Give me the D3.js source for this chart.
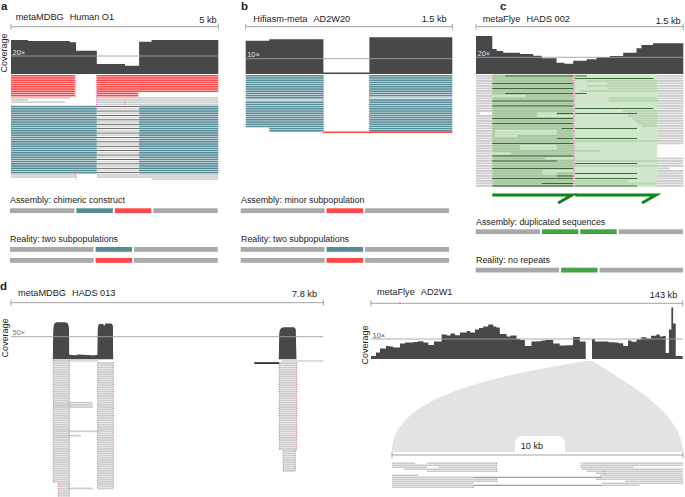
<!DOCTYPE html>
<html>
<head>
<meta charset="utf-8">
<script src="https://cdn.jsdelivr.net/npm/d3@7"></script>
<style>
  body { margin: 0; background: #fff; }
  text { font-family: "Liberation Sans", Arial, sans-serif; fill: #222; }
</style>
</head>
<body>
<svg id="fig" width="685" height="497"></svg>
<script>
// ---------- data ----------
// coverage profiles: [position (kb), depth (x)]
const aCov = [[0, 37.8], [0.41, 36.7], [1.42, 35.2], [1.57, 25.9], [2.07, 11.1], [2.75, 9.2], [3.09, 35.9], [3.39, 37.8], [5, 37.8]];
const bCov = [[0, 21.8], [0.171, 22.7], [0.564, 0.9], [0.898, 24], [1.5, 24]];
const cCov = [[0, 45.5], [0.118, 30], [0.15, 27.5], [0.197, 25.5], [0.318, 24], [0.414, 22], [0.475, 18.8],
  [0.583, 13.6], [0.64, 12.2], [0.703, 16], [0.8, 17.6], [0.872, 20], [0.968, 21.5], [1.065, 25.5],
  [1.161, 30.8], [1.197, 34.7], [1.281, 36.7], [1.5, 36.7]];
const dlCov = [[0, 0], [1.045, 0], [1.055, 60], [1.08, 78], [1.14, 82], [1.35, 82], [1.42, 79], [1.448, 68], [1.456, 10],
  [1.6, 9], [1.7, 10.5], [1.9, 9.5], [2.1, 9], [2.158, 10], [2.168, 68], [2.2, 78], [2.3, 78], [2.33, 74],
  [2.36, 79], [2.5, 79], [2.545, 74], [2.555, 0], [6.69, 0], [6.7, 58], [6.74, 68], [6.82, 71], [7.05, 71],
  [7.11, 67], [7.135, 0], [7.8, 0]];
const drCov = [[0, 1.5], [2.3, 3.2], [4.1, 5.3], [6.9, 6.5], [8.5, 6.2], [10.2, 5.7], [13.3, 7.8], [15.6, 8.2],
  [19.4, 8.5], [21.5, 8.9], [24, 8.3], [26.3, 7], [28.9, 8.7], [32.4, 12.3], [34.7, 11.7], [36.5, 12.8],
  [38.5, 11.9], [40.8, 13.3], [43.9, 14], [45.5, 13.2], [47.7, 14.8], [49.5, 15.5], [51.5, 16.2], [53.8, 17.3],
  [56.1, 16.2], [57.5, 15.8], [59.1, 12.5], [62.2, 11.3], [64, 11.8], [66.8, 10], [68.5, 9.5], [70.6, 6.5],
  [73.6, 8.7], [76, 8.9], [78.2, 9.2], [80, 9.5], [83.6, 7.8], [86.6, 6.7], [89.5, 6.9], [92.7, 11], [95.8, 8.7],
  [98.5, 0], [101.4, 10], [102.7, 8.7], [106, 8.8], [109, 8.4], [111.8, 8.2], [113.5, 7.9], [115.7, 6.5],
  [117.9, 9.2], [119.5, 8.6], [121.8, 9.7], [124, 10.9], [126.4, 10.3], [128.5, 11.6], [130.9, 12.3],
  [132.5, 11.2], [134, 11.5], [135.2, 3], [136.7, 14.8], [137.8, 25.8], [138.6, 17.7], [139.8, 1.5], [143, 1.5]];

// read pile-ups: first row, number of rows, start kb, end kb, colour key
const aReads = [
  {r0: 0, n: 10, s: 0, e: 1.54, c: "red"}, {r0: 0, n: 8, s: 2.07, e: 5, c: "red"},
  {r0: 8, n: 2, s: 2.07, e: 3.07, c: "red"},
  {r0: 10, n: 1, s: 0, e: 1.42, c: "gray"}, {r0: 11, n: 1, s: 0, e: 0.41, c: "gray"},
  {r0: 12, n: 1, s: 0, e: 1.3, c: "gray"}, {r0: 10, n: 4, s: 2.07, e: 5, c: "gray"},
  {r0: 14, n: 31, s: 0, e: 2.07, c: "teal"}, {r0: 14, n: 31, s: 3.09, e: 5, c: "teal"},
  {r0: 14, n: 31, s: 2.07, e: 3.09, c: "mix"},
  {r0: 45, n: 2, s: 0, e: 1.57, c: "gray"}, {r0: 45, n: 2, s: 2.07, e: 5, c: "gray"},
  {r0: 47, n: 1, s: 3.39, e: 5, c: "gray"}
];
const aClips = [[1.56, 0, 10], [2.06, 0, 14], [2.75, 12, 14], [1.57, 44, 47]];
const bReads = [
  {r0: 0, n: 11, s: 0, e: 0.564, c: "teal"}, {r0: 11, n: 1, s: 0, e: 0.564, c: "gray"},
  {r0: 12, n: 12, s: 0, e: 0.564, c: "teal"}, {r0: 24, n: 2, s: 0.171, e: 0.564, c: "teal"},
  {r0: 0, n: 10, s: 0.898, e: 1.5, c: "teal"}, {r0: 10, n: 1, s: 0.898, e: 1.5, c: "gray"},
  {r0: 11, n: 15, s: 0.898, e: 1.5, c: "teal"}
];
const bClips = [[0.564, 0, 26], [0.898, 0, 26]];
const bSpan = [0.564, 1.5];

// panel c: rows with gaps, green duplicated blocks, dark (matching) and light read rows
const cGaps = [[15, 0.03, 0.118], [28, 1.31, 1.5], [29, 1.31, 1.5], [30, 1.31, 1.5], [31, 1.31, 1.5], [32, 1.31, 1.5], [37, 1.4, 1.5]];
const cBlocks = [[0.118, 0.703, "left"], [0.717, 1.31, "right"]];
const cDark = [[0, 0.21, 0.703], [3, 0.118, 0.703], [5, 0.118, 0.703], [7, 0.21, 0.703], [10, 0.118, 0.703],
  [12, 0.118, 0.703], [15, 0.585, 0.703], [17, 0.118, 0.703], [19, 0.118, 0.703], [21, 0.62, 0.703],
  [25, 0.585, 0.703], [27, 0.118, 0.703], [32, 0.118, 0.703], [34, 0.118, 0.585], [37, 0.118, 0.703],
  [40, 0.585, 0.703], [41, 0.118, 0.703], [43, 0.476, 0.703], [44, 0.118, 0.703],
  [0, 0.717, 0.802], [1, 0.717, 1.283], [7, 0.717, 0.802], [13, 0.717, 1.283], [15, 0.717, 1.165],
  [21, 0.717, 1.165], [25, 0.717, 1.165], [35, 0.717, 1.165], [39, 0.717, 1.165], [41, 0.717, 1.165], [44, 0.717, 1.165]];
const cLight = [[8, 0.118, 0.36], [15, 0.44, 0.585], [16, 0.44, 0.703], [22, 0.138, 0.585], [23, 0.138, 0.585],
  [24, 0.138, 0.3], [28, 0.32, 0.585], [29, 0.32, 0.585], [31, 0.118, 0.25], [33, 0.5, 0.703],
  [38, 0.48, 0.703], [39, 0.48, 0.585]];
const cMid = [[2, 0.8, 1.31], [3, 0.95, 1.31], [4, 0.8, 1.31], [5, 0.95, 1.31], [6, 0.75, 1.31], [9, 0.96, 1.31],
  [10, 0.96, 1.31], [14, 1.06, 1.31], [15, 1.1, 1.31], [16, 1.1, 1.31], [17, 1.13, 1.31], [18, 1.15, 1.31],
  [19, 1.17, 1.31], [20, 1.2, 1.31], [26, 0.717, 1.31], [30, 0.717, 0.9], [34, 0.717, 1.31], [36, 0.717, 1.31],
  [42, 0.717, 1.1], [43, 0.717, 1.31]];

// panel d left: read columns under the peaks
const dlReads = [
  {r0: 0, n: 1, s: 1.456, e: 2.165, c: "lgray"}, {r0: 0, n: 1, s: 6.76, e: 7.8, c: "lgray"},
  {r0: 1, n: 1, s: 6.076, e: 6.7, c: "dark"},
  {r0: 0, n: 56, s: 1.056, e: 1.456, c: "gray"}, {r0: 56, n: 7, s: 1.18, e: 1.456, c: "gray"},
  {r0: 19, n: 3, s: 1.056, e: 2.04, c: "gray"}, {r0: 32, n: 1, s: 1.1, e: 2.3, c: "gray"},
  {r0: 34, n: 1, s: 1.1, e: 1.75, c: "gray"}, {r0: 58, n: 1, s: 1.4, e: 2.04, c: "gray"},
  {r0: 1, n: 58, s: 2.165, e: 2.555, c: "gray"},
  {r0: 1, n: 40, s: 6.7, e: 7.135, c: "gray"}, {r0: 41, n: 10, s: 6.8, e: 7.1, c: "gray"}
];
// panel d right: reads on the 10 kb zoom-in
const drReads = [
  [0, 0, 0.8], [0, 1.2, 3.6], [0, 6.55, 10], [1, 0, 3.6], [1, 6.5, 10], [2, 0, 1.2], [2, 1.6, 3.6], [2, 6.5, 8.3],
  [3, 0.4, 3.6], [3, 6.55, 10], [4, 1.2, 3.6], [4, 6.7, 10], [5, 7.0, 10], [6, 0, 0.9], [6, 7.15, 10],
  [7, 0, 2.8], [7, 7.2, 10], [8, 0, 3.6], [8, 7.0, 10], [9, 0, 3.6], [9, 8.0, 10], [10, 0, 2.8], [10, 7.2, 10],
  [11, 0, 2.8], [11, 7.2, 8.5], [12, 0, 2.8]];
const drSpan = [[7, 2.8, 7.2], [11, 2.8, 7.2]];
const drFunnel = [98.5, 101.4];

// schematic bars: relative segment widths and colours
const aAssembly = [[1.7, "bar"], [1, "teal"], [1, "red"], [1.7, "bar"]];
const aReality = [[[2.2, "bar"], [1, "teal"], [2.2, "bar"]], [[2.2, "bar"], [1, "red"], [2.2, "bar"]]];
const bAssembly = [[2.2, "bar"], [1, "red"], [2.2, "bar"]];
const bReality = aReality;
const cAssembly = [[1.7, "bar"], [1, "green"], [1, "green"], [1.7, "bar"]];
const cReality = [[[2.2, "bar"], [1, "green"], [2.2, "bar"]]];

// ---------- drawing ----------
const svg = d3.select("#fig");
const col = {
  cov: "#484848", gray: "#cdcdcd", lgray: "#d8d8d8", dark: "#2a2a2a", bar: "#a9a9a9",
  teal: "#568c98", red: "#ff4848", green: "#45a245", pink: "#ee5aa8", ref: "#a0a0a0"
};

function panelLetter(x, y, t) {
  svg.append("text").attr("x", x).attr("y", y).attr("font-size", 11.5).attr("font-weight", "bold").text(t);
}

function header(x, yLine, title1, title2, size, tOff, sOff, tBase, sBase) {
  const [x0, x1] = x.range();
  const g = svg.append("g").attr("stroke", "#8a8a8a").attr("stroke-width", 0.8);
  g.append("line").attr("x1", x0).attr("x2", x1).attr("y1", yLine).attr("y2", yLine);
  g.selectAll(null).data([x0, x1]).join("line")
    .attr("x1", d => d).attr("x2", d => d).attr("y1", yLine - 3).attr("y2", yLine + 3);
  const t = svg.append("text").attr("x", x0 + tOff).attr("y", tBase).attr("font-size", 9.2);
  t.append("tspan").text(title1);
  t.append("tspan").attr("dx", 6).text(title2);
  svg.append("text").attr("x", x1 - sOff).attr("y", sBase).attr("font-size", 9.2)
    .attr("text-anchor", "end").text(size);
}

function coverage(x, y, data, refDepth, refLabel, labelFill, curve = d3.curveStepAfter) {
  svg.append("path").datum(data).attr("fill", col.cov)
    .attr("d", d3.area().curve(curve).x(d => x(d[0])).y0(y(0)).y1(d => y(d[1])));
  const [x0, x1] = x.range();
  svg.append("line").attr("x1", x0).attr("x2", x1).attr("y1", y(refDepth)).attr("y2", y(refDepth))
    .attr("stroke", col.ref).attr("stroke-width", 0.9);
  svg.append("text").attr("x", x0 + 1.5).attr("y", y(refDepth) - 1.5).attr("font-size", 7.5)
    .style("fill", labelFill).text(refLabel);
}

function covLabel(x, y) {
  svg.append("text").attr("transform", `translate(${x},${y}) rotate(-90)`).attr("text-anchor", "middle")
    .attr("font-size", 9).text("Coverage");
}

function pileup(x, rowY, h, blocks) {
  const rows = blocks.flatMap(b => d3.range(b.n).map(i => ({...b, r: b.r0 + i})));
  svg.append("g").selectAll("rect").data(rows).join("rect")
    .attr("x", d => x(d.s)).attr("width", d => x(d.e) - x(d.s))
    .attr("y", d => rowY(d.r) + (d.c === "mix" && d.r % 2 === 0 ? h * 0.3 : 0))
    .attr("height", d => (d.c === "mix" && d.r % 2 === 0 ? h * 0.45 : h))
    .attr("fill", d => d.c === "mix" ? (d.r % 2 === 0 ? "#333" : "#d4d4d4") : col[d.c]);
}

function clips(x, rowY, h, list) {
  svg.append("g").selectAll("line").data(list).join("line")
    .attr("x1", d => x(d[0])).attr("x2", d => x(d[0]))
    .attr("y1", d => rowY(d[1])).attr("y2", d => rowY(d[2]) + h)
    .attr("stroke", col.pink).attr("stroke-width", 0.9).attr("stroke-dasharray", "1.2,1.2");
}

function schematic(x0, x1, y, segs, h) {
  const total = d3.sum(segs, d => d[0]);
  const sx = d3.scaleLinear().domain([0, total]).range([x0, x1]);
  let acc = 0;
  const parts = segs.map(d => { const p = {s: acc, e: acc + d[0], c: d[1]}; acc += d[0]; return p; });
  svg.append("g").selectAll("rect").data(parts).join("rect")
    .attr("x", d => sx(d.s) + (d.s > 0 ? 1 : 0))
    .attr("width", d => sx(d.e) - sx(d.s) - (d.s > 0 ? 1 : 0) - (d.e < total ? 1 : 0))
    .attr("y", y).attr("height", h).attr("fill", d => col[d.c]);
}

function caption(x, y, t) {
  svg.append("text").attr("x", x).attr("y", y).attr("font-size", 8.9).text(t);
}

// ----- panel a -----
const xa = d3.scaleLinear().domain([0, 5]).range([11, 218.3]);
const ya = d3.scaleLinear().domain([0, 20]).range([74, 56]);
const rowA = r => 75 + r * 2.2;
panelLetter(1, 10, "a");
header(xa, 26.7, "metaMDBG", "Human O1", "5 kb", 4.7, 1.6, 20, 22.5);
coverage(xa, ya, aCov, 20, "20×", "#e0e0e0");
covLabel(7, 53);
pileup(xa, rowA, 1.65, aReads);
clips(xa, rowA, 1.65, aClips);
caption(10, 203, "Assembly: chimeric construct");
schematic(10, 217.7, 208.3, aAssembly, 4.8);
caption(10, 241.5, "Reality: two subpopulations");
aReality.forEach((segs, i) => schematic(10, 217.7, 247 + i * 11, segs, 4.8));

// ----- panel b -----
const xb = d3.scaleLinear().domain([0, 1.5]).range([245.7, 452.3]);
const yb = d3.scaleLinear().domain([0, 10]).range([74, 58.7]);
const rowB = r => 75 + r * 2.2;
panelLetter(241, 10, "b");
header(xb, 26.7, "Hifiasm-meta", "AD2W20", "1.5 kb", 7.6, 5.6, 21.5, 21.7);
coverage(xb, yb, bCov, 10, "10×", "#e0e0e0");
pileup(xb, rowB, 1.65, bReads);
clips(xb, rowB, 1.65, bClips);
svg.append("line").attr("x1", xb(bSpan[0])).attr("x2", xb(bSpan[1])).attr("y1", 132.3).attr("y2", 132.3)
  .attr("stroke", col.red).attr("stroke-width", 1.6);
caption(241, 203, "Assembly: minor subpopulation");
schematic(240.7, 449, 208.3, bAssembly, 4.8);
caption(241, 241.5, "Reality: two subpopulations");
bReality.forEach((segs, i) => schematic(240.7, 449, 247 + i * 11, segs, 4.8));

// ----- panel c -----
const xc = d3.scaleLinear().domain([0, 1.5]).range([476, 683.3]);
const yc = d3.scaleLinear().domain([0, 20]).range([74, 57.3]);
const rowC = r => 75 + r * 2.5;
panelLetter(500, 10, "c");
header(xc, 26.7, "metaFlye", "HADS 002", "1.5 kb", 6.7, 2.6, 21.5, 23.5);
coverage(xc, yc, cCov, 20, "20×", "#e0e0e0");
const cRows = d3.range(45);
svg.append("g").selectAll("rect").data(cRows).join("rect")
  .attr("x", xc(0)).attr("width", xc(1.5) - xc(0)).attr("y", d => rowC(d)).attr("height", 1.9)
  .attr("fill", col.gray);
svg.append("g").selectAll("rect").data(cGaps).join("rect")
  .attr("x", d => xc(d[1])).attr("width", d => xc(d[2]) - xc(d[1])).attr("y", d => rowC(d[0]) - 0.3)
  .attr("height", 2.5).attr("fill", "#fff");
svg.append("g").selectAll("rect").data(cBlocks).join("rect")
  .attr("x", d => xc(d[0])).attr("width", d => xc(d[1]) - xc(d[0])).attr("y", rowC(0) - 0.5)
  .attr("height", rowC(44) + 2.5 - rowC(0)).attr("fill", d => d[2] === "left" ? "#bdd7b6" : "#d0e7cb");
svg.append("g").selectAll("rect").data(cRows).join("rect")
  .attr("x", xc(cBlocks[0][0])).attr("width", xc(cBlocks[0][1]) - xc(cBlocks[0][0]))
  .attr("y", d => rowC(d)).attr("height", 1.9).attr("fill", "#a9c8a1");
svg.append("g").selectAll("rect").data(cMid).join("rect")
  .attr("x", d => xc(d[1])).attr("width", d => xc(d[2]) - xc(d[1])).attr("y", d => rowC(d[0]))
  .attr("height", 1.9).attr("fill", "#b9d4b2");
svg.append("g").selectAll("rect").data(cLight).join("rect")
  .attr("x", d => xc(d[1])).attr("width", d => xc(d[2]) - xc(d[1])).attr("y", d => rowC(d[0]))
  .attr("height", 1.9).attr("fill", "#d2e8cd");
svg.append("g").selectAll("rect").data(cDark).join("rect")
  .attr("x", d => xc(d[1])).attr("width", d => xc(d[2]) - xc(d[1])).attr("y", d => rowC(d[0]) + 0.5)
  .attr("height", 0.9).attr("fill", "#2e5b2e");
clips(xc, rowC, 1.9, [[0.71, 0, 44]]);
// green arrows under the duplicated blocks
svg.append("g").selectAll("path").data(cBlocks).join("path")
  .attr("d", d => `M${xc(d[0])},195 L${xc(d[1]) - 1},195 L${xc(d[1]) - 15},203`)
  .attr("fill", "none").attr("stroke", "#13821a").attr("stroke-width", 3).attr("stroke-linejoin", "miter");
caption(476, 225, "Assembly: duplicated sequences");
schematic(475.7, 683, 229.3, cAssembly, 4.8);
caption(476, 262.5, "Reality: no repeats");
cReality.forEach(segs => schematic(475.7, 683, 267.7, segs, 4.8));

// ----- panel d left -----
const xdl = d3.scaleLinear().domain([0, 7.8]).range([11, 323.3]);
const ydl = d3.scaleLinear().domain([0, 50]).range([359.3, 336.7]);
const rowDl = r => 360 + r * 2.2;
panelLetter(0, 290, "d");
header(xdl, 302.7, "metaMDBG", "HADS 013", "7.8 kb", 7, 6.3, 295.5, 296.5);
pileup(xdl, rowDl, 1.75, dlReads);
coverage(xdl, ydl, dlCov, 50, "50×", "#777", d3.curveMonotoneX);
covLabel(8, 338);
clips(xdl, rowDl, 1.75, dlReads.filter(d => d.c === "gray" && d.n > 5).flatMap(d => [[d.s, d.r0, d.r0 + d.n - 1], [d.e, d.r0, d.r0 + d.n - 1]]));

// ----- panel d right -----
const xdr = d3.scaleLinear().domain([0, 143]).range([371, 682.7]);
const ydr = d3.scaleLinear().domain([0, 10]).range([359, 339]);
const xz = d3.scaleLinear().domain([0, 10]).range([392, 683]);
const rowDr = r => 462.5 + r * 2;
// funnel from the coverage gap to the 10 kb zoom
const tl = xdr(drFunnel[0]), tr = xdr(drFunnel[1]);
svg.append("path").attr("fill", "#e3e3e3")
  .attr("d", `M${tl},361 C${tl - 106},378 ${xz(0)},400 ${xz(0)},452 L${xz(10)},452 C${xz(10)},415 ${tr + 40},385 ${tr},361 Z`);
header(xdr, 303.3, "metaFlye", "AD2W1", "143 kb", 6, 5.4, 295, 298);
svg.append("line").attr("x1", xdr(13.3)).attr("x2", xdr(13.3)).attr("y1", 302).attr("y2", 304.5)
  .attr("stroke", col.pink).attr("stroke-width", 1);
coverage(xdr, ydr, drCov, 10, "10×", "#555");
covLabel(368, 345);
// 10 kb zoom scale
svg.append("rect").attr("x", 515).attr("y", 436).attr("width", 50).attr("height", 22).attr("rx", 7).attr("fill", "#fff");
const zg = svg.append("g").attr("stroke", "#999").attr("stroke-width", 0.9);
zg.append("line").attr("x1", xz(0)).attr("x2", xz(10)).attr("y1", 455).attr("y2", 455);
zg.selectAll(null).data([0, 10]).join("line")
  .attr("x1", d => xz(d)).attr("x2", d => xz(d)).attr("y1", 452).attr("y2", 458);
svg.append("text").attr("x", xz(5) - 5.5).attr("y", 448.5).attr("font-size", 9.2).attr("text-anchor", "middle").text("10 kb");
svg.append("g").selectAll("rect").data(drReads).join("rect")
  .attr("x", d => xz(d[1])).attr("width", d => xz(d[2]) - xz(d[1])).attr("y", d => rowDr(d[0]))
  .attr("height", 1.5).attr("fill", "#cacaca");
svg.append("g").selectAll("rect").data(drSpan).join("rect")
  .attr("x", d => xz(d[1])).attr("width", d => xz(d[2]) - xz(d[1])).attr("y", d => rowDr(d[0]) + 0.3)
  .attr("height", 0.9).attr("fill", "#777");
clips(xz, rowDr, 1.5, [[3.6, 0, 1], [3.6, 3, 4], [3.6, 8, 9], [6.5, 0, 2], [6.55, 3, 3], [2.8, 12, 12], [7.3, 4, 5]]);
</script>
</body>
</html>
